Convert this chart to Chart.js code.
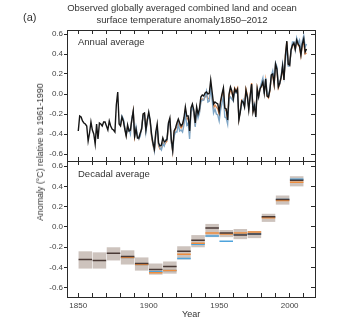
<!DOCTYPE html>
<html>
<head>
<meta charset="utf-8">
<script src="https://cdn.jsdelivr.net/npm/chart.js@4.4.1/dist/chart.umd.min.js"></script>
<style>
  body { margin: 0; background: #fff; }
  #wrap { position: relative; width: 360px; height: 323px; overflow: hidden;
          font-family: "Liberation Sans", Arial, sans-serif; color: #333; }
  .txt { position: absolute; white-space: nowrap; z-index: 2; }
  canvas { position: absolute; left: 0; }
</style>
</head>
<body>
<div id="wrap">
  <canvas id="annual" style="top:0;width:360px;height:170px" width="360" height="170"></canvas>
  <canvas id="decadal" style="top:150px;width:360px;height:173px" width="360" height="173"></canvas>
  <div class="txt" style="left:0;width:364px;top:2px;text-align:center;font-size:9.5px;line-height:11.5px">Observed globally averaged combined land and ocean<br>surface temperature anomaly1850–2012</div>
  <div class="txt" style="left:23px;top:11px;font-size:11px">(a)</div>
  <div class="txt" style="left:78px;top:36px;font-size:9.5px">Annual average</div>
  <div class="txt" style="left:78px;top:168px;font-size:9.5px">Decadal average</div>
  <div class="txt" style="left:40px;top:152px;font-size:8.8px;transform:translate(-50%,-50%) rotate(-90deg)">Anomaly (°C) relative to 1961-1990</div>
  <div class="txt" style="left:182px;top:309px;font-size:9px">Year</div>
</div>
<script>
// annual anomalies, black = 1850-2012, orange/blue = 1880-2012
const blackStart = 1850;
const blackAnnual = [
  -0.37, -0.22, -0.23, -0.27, -0.29, -0.30, -0.32, -0.47, -0.39, -0.28,
  -0.36, -0.40, -0.50, -0.30, -0.45, -0.29, -0.30, -0.32, -0.28, -0.28,
  -0.32, -0.36, -0.27, -0.32, -0.35, -0.36, -0.38, -0.11, 0.02, -0.30,
  -0.32, -0.23, -0.27, -0.35, -0.42, -0.31, -0.37, -0.36, -0.26, -0.17,
  -0.42, -0.35, -0.44, -0.44, -0.39, -0.35, -0.20, -0.19, -0.36, -0.26,
  -0.18, -0.26, -0.40, -0.49, -0.55, -0.38, -0.30, -0.49, -0.52, -0.51,
  -0.44, -0.48, -0.47, -0.45, -0.29, -0.24, -0.45, -0.56, -0.37, -0.34,
  -0.29, -0.25, -0.29, -0.32, -0.30, -0.24, -0.13, -0.22, -0.22, -0.37,
  -0.14, -0.10, -0.16, -0.29, -0.13, -0.20, -0.15, -0.03, -0.01, -0.02,
  0.01, 0.02, 0.00, 0.01, 0.14, 0.02, -0.10, -0.08, -0.09, -0.10,
  -0.18, -0.07, 0.00, 0.06, -0.14, -0.15, -0.26, 0.00, 0.07, 0.03,
  -0.05, 0.05, 0.02, 0.05, -0.26, -0.18, -0.07, -0.08, -0.13, 0.04,
  -0.03, -0.16, -0.02, 0.10, -0.18, -0.12, -0.23, 0.05, -0.03, 0.05,
  0.08, 0.12, 0.01, 0.15, -0.02, -0.03, 0.04, 0.19, 0.20, 0.10,
  0.30, 0.25, 0.07, 0.11, 0.17, 0.28, 0.14, 0.39, 0.53, 0.30,
  0.29, 0.44, 0.49, 0.51, 0.45, 0.54, 0.50, 0.48, 0.39, 0.50,
  0.55, 0.42, 0.45
];
const colourStart = 1880;
const orangeAnnual = [
  -0.31, -0.24, -0.26, -0.34, -0.41, -0.33, -0.36, -0.38, -0.25, -0.17,
  -0.43, -0.36, -0.42, -0.45, -0.40, -0.34, -0.21, -0.20, -0.37, -0.25,
  -0.21, -0.28, -0.43, -0.51, -0.57, -0.41, -0.34, -0.52, -0.55, -0.54,
  -0.49, -0.51, -0.49, -0.47, -0.32, -0.27, -0.48, -0.58, -0.39, -0.35,
  -0.33, -0.27, -0.32, -0.34, -0.32, -0.27, -0.16, -0.25, -0.24, -0.39,
  -0.17, -0.13, -0.19, -0.32, -0.16, -0.22, -0.18, -0.07, -0.05, -0.06,
  -0.03, -0.01, -0.05, -0.04, 0.09, -0.03, -0.14, -0.11, -0.13, -0.15,
  -0.20, -0.09, -0.02, 0.04, -0.16, -0.16, -0.27, -0.02, 0.05, 0.01,
  -0.03, 0.06, 0.03, 0.06, -0.25, -0.17, -0.06, -0.07, -0.11, 0.05,
  -0.01, -0.14, -0.01, 0.11, -0.16, -0.10, -0.21, 0.06, -0.01, 0.05,
  0.08, 0.11, 0.02, 0.14, -0.02, -0.04, 0.03, 0.17, 0.18, 0.09,
  0.29, 0.24, 0.06, 0.10, 0.16, 0.27, 0.14, 0.38, 0.52, 0.29,
  0.28, 0.43, 0.48, 0.50, 0.44, 0.53, 0.49, 0.47, 0.38, 0.49,
  0.52, 0.40, 0.41
];
const blueAnnual = [
  -0.30, -0.22, -0.25, -0.33, -0.40, -0.36, -0.35, -0.40, -0.24, -0.18,
  -0.44, -0.33, -0.41, -0.45, -0.42, -0.33, -0.22, -0.21, -0.38, -0.27,
  -0.20, -0.27, -0.41, -0.50, -0.57, -0.40, -0.34, -0.50, -0.54, -0.56,
  -0.50, -0.52, -0.46, -0.46, -0.30, -0.27, -0.48, -0.57, -0.42, -0.38,
  -0.38, -0.30, -0.37, -0.36, -0.38, -0.31, -0.20, -0.31, -0.29, -0.45,
  -0.18, -0.13, -0.18, -0.33, -0.17, -0.24, -0.19, -0.08, -0.06, -0.06,
  -0.02, 0.03, -0.08, -0.07, 0.06, -0.06, -0.19, -0.15, -0.20, -0.21,
  -0.27, -0.16, -0.09, -0.02, -0.23, -0.24, -0.30, -0.05, -0.03, -0.05,
  -0.07, 0.03, 0.01, 0.03, -0.24, -0.17, -0.10, -0.06, -0.12, 0.00,
  -0.02, -0.14, -0.04, 0.09, -0.14, -0.10, -0.19, 0.04, -0.02, 0.06,
  0.11, 0.16, 0.00, 0.16, 0.01, -0.02, 0.05, 0.18, 0.23, 0.13,
  0.31, 0.27, 0.08, 0.10, 0.18, 0.30, 0.18, 0.33, 0.49, 0.28,
  0.28, 0.43, 0.52, 0.52, 0.44, 0.56, 0.51, 0.54, 0.42, 0.53,
  0.58, 0.47, 0.50
];

// decadal means (1850s ... 2000s), black with its uncertainty band
const decadeStarts = [1850, 1860, 1870, 1880, 1890, 1900, 1910, 1920, 1930, 1940, 1950, 1960, 1970, 1980, 1990, 2000];
const blackDecadal = [-0.32, -0.33, -0.26, -0.29, -0.36, -0.42, -0.39, -0.24, -0.13, -0.01, -0.06, -0.08, -0.07, 0.10, 0.27, 0.46];
const bandLow  = [-0.41, -0.41, -0.33, -0.37, -0.43, -0.47, -0.46, -0.32, -0.20, -0.10, -0.10, -0.12, -0.11, 0.05, 0.22, 0.40];
const bandHigh = [-0.24, -0.25, -0.20, -0.23, -0.30, -0.36, -0.34, -0.19, -0.08, 0.03, -0.03, -0.02, -0.04, 0.13, 0.31, 0.50];
const colourDecadeStart = 1880;
const orangeDecadal = [-0.30, -0.37, -0.45, -0.43, -0.27, -0.16, -0.06, -0.07, -0.06, -0.05, 0.09, 0.26, 0.44];
const blueDecadal   = [-0.30, -0.37, -0.44, -0.43, -0.31, -0.17, -0.09, -0.14, -0.07, -0.07, 0.10, 0.27, 0.47];

const xMin = 1842, xMax = 2018;
const tickFont = { size: 8, family: '"Liberation Sans", Arial, sans-serif' };
const axisColour = '#2a2a2a';

Chart.defaults.font.family = '"Liberation Sans", Arial, sans-serif';
Chart.defaults.color = '#333';

const toPoints = (vals, start) => vals.map((v, i) => ({ x: start + i, y: v }));

const decadeSegments = (vals, start) => {
  const pts = [];
  vals.forEach((v, i) => {
    const d = start + i * 10;
    pts.push({ x: d + 0.2, y: v }, { x: d + 9.8, y: v }, { x: d + 9.8, y: null });
  });
  return pts;
};

function frameScales(yMin, yMax, showYears) {
  return {
    x: {
      type: 'linear', position: 'bottom', min: xMin, max: xMax, offset: false,
      grid: { drawOnChartArea: false, offset: false, tickLength: -4, color: axisColour },
      border: { color: axisColour },
      ticks: {
        display: showYears, stepSize: 10, includeBounds: false, autoSkip: false,
        maxRotation: 0, padding: 8, font: tickFont, color: '#444',
        callback: v => (v % 50 === 0 ? String(v) : '')
      },
      afterFit: s => { s.height = showYears ? 26 : 0; }
    },
    xTop: {
      type: 'linear', position: 'top', min: xMin, max: xMax, offset: false,
      grid: { drawOnChartArea: false, offset: false, tickLength: -4, color: axisColour },
      border: { color: axisColour },
      ticks: { display: false, stepSize: 10, includeBounds: false },
      afterFit: s => { s.height = 0; }
    },
    y: {
      type: 'linear', position: 'left', min: yMin, max: yMax,
      grid: { drawOnChartArea: false, tickLength: 3, color: axisColour },
      border: { color: axisColour },
      ticks: {
        stepSize: 0.2, includeBounds: false, padding: 1, font: tickFont, color: '#444',
        callback: v => (Math.abs(v) < 1e-9 ? '0.0' : v.toFixed(1))
      },
      afterFit: s => { s.width = 67; }
    },
    yRight: {
      type: 'linear', position: 'right', min: yMin, max: yMax,
      grid: { drawOnChartArea: false, tickLength: -4, color: axisColour },
      border: { color: axisColour },
      ticks: { display: false, stepSize: 0.2, includeBounds: false },
      afterFit: s => { s.width = 45; }
    }
  };
}

const commonOptions = {
  responsive: false,
  animation: false,
  plugins: { legend: { display: false }, tooltip: { enabled: false } },
  elements: { point: { radius: 0 } }
};

new Chart(document.getElementById('annual'), {
  type: 'line',
  data: {
    datasets: [
      { data: toPoints(blackAnnual, blackStart), borderColor: '#151515', borderWidth: 1.4, order: 1 },
      { data: toPoints(blueAnnual, colourStart), borderColor: '#7fa6c6', borderWidth: 1.4, order: 2 },
      { data: toPoints(orangeAnnual, colourStart), borderColor: '#e0864a', borderWidth: 1.3, order: 3 }
    ]
  },
  options: {
    ...commonOptions,
    layout: { padding: { top: 30, bottom: 9, left: 0, right: 0 } },
    scales: frameScales(-0.67, 0.64, false)
  }
});

new Chart(document.getElementById('decadal'), {
  type: 'bar',
  data: {
    datasets: [
      {
        type: 'bar', order: 10,
        data: decadeStarts.map((d, i) => ({ x: d + 5, y: [bandLow[i], bandHigh[i]] })),
        backgroundColor: '#cdc3bd', borderWidth: 0,
        barPercentage: 0.96, categoryPercentage: 1
      },
      { type: 'line', order: 3, data: decadeSegments(blueDecadal, colourDecadeStart), borderColor: '#4ea3dc', borderWidth: 1.5 },
      { type: 'line', order: 2, data: decadeSegments(orangeDecadal, colourDecadeStart), borderColor: '#ee8d3e', borderWidth: 1.5 },
      { type: 'line', order: 1, data: decadeSegments(blackDecadal, decadeStarts[0]), borderColor: '#4a3a36', borderWidth: 1.5 }
    ]
  },
  options: {
    ...commonOptions,
    layout: { padding: { top: 11, bottom: 0, left: 0, right: 0 } },
    scales: frameScales(-0.69, 0.65, true)
  }
});
</script>
</body>
</html>
